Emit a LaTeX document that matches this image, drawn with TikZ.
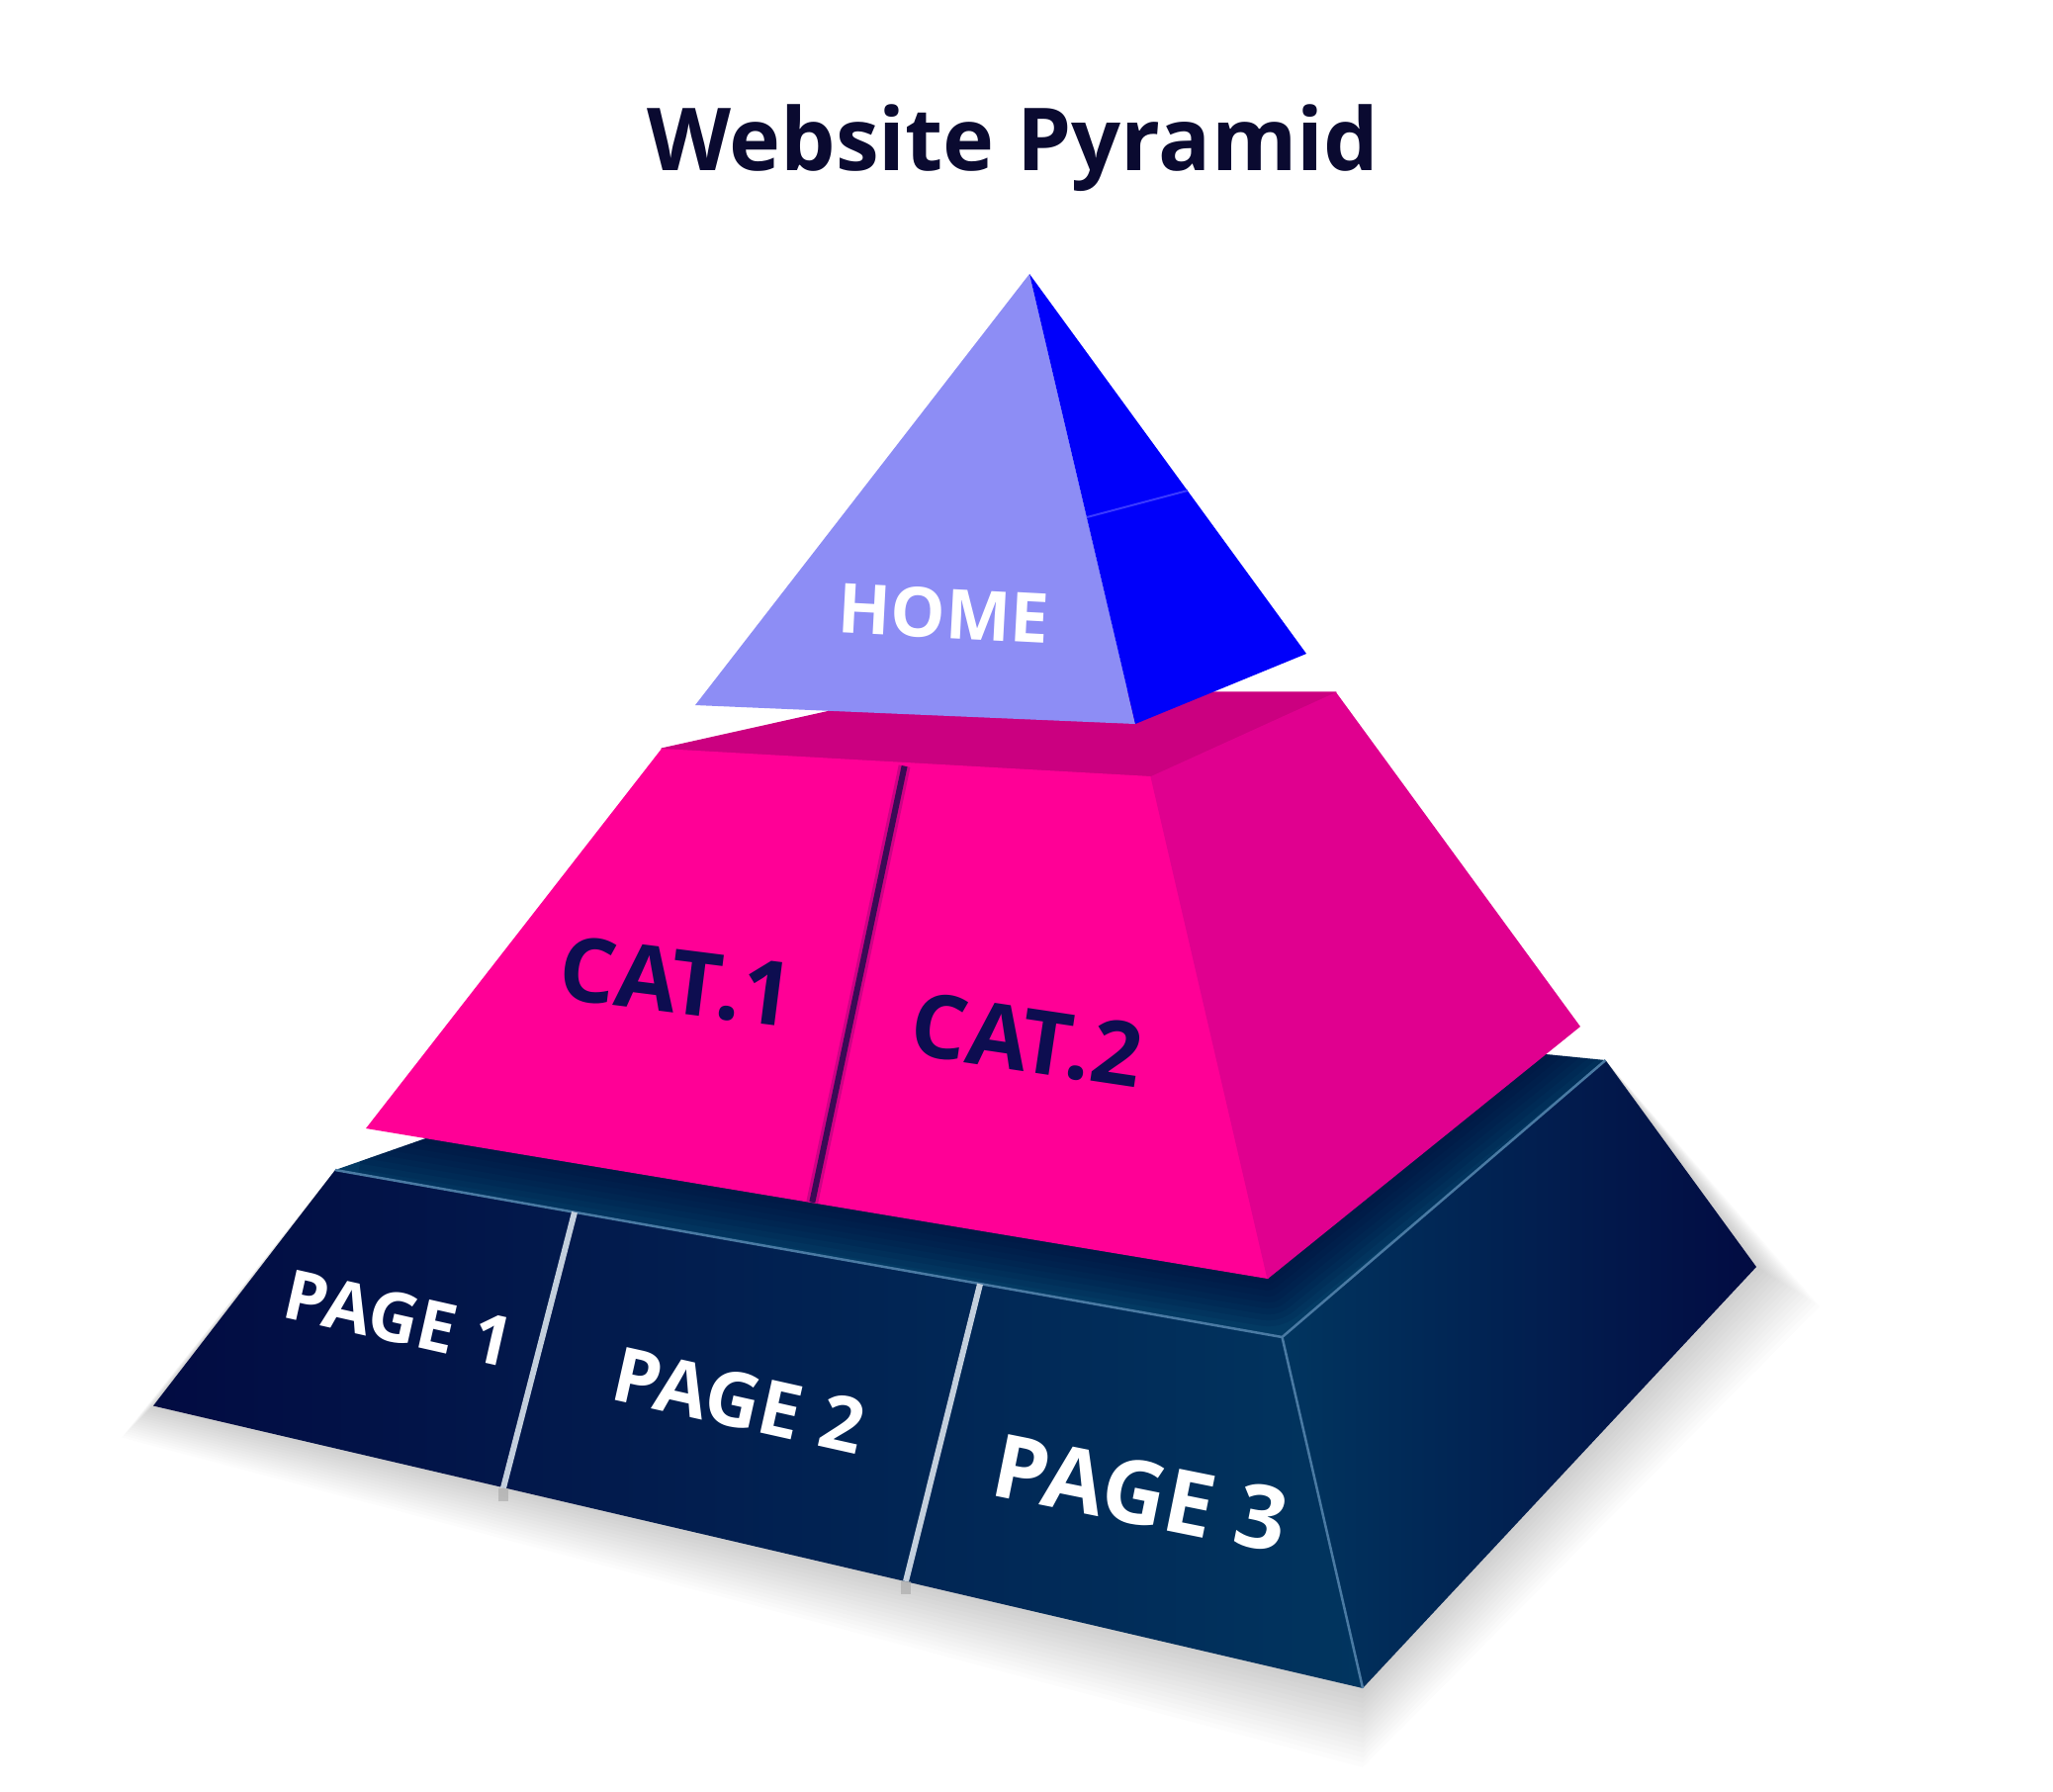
\documentclass[tikz,border=0pt]{standalone}
\usepackage{fontspec}
\setmainfont{Open Sans}
\usetikzlibrary{calc}
\definecolor{titlecol}{HTML}{0A0A30}
\definecolor{lav}{HTML}{8D8DF5}
\definecolor{blueR}{HTML}{0000FA}
\definecolor{creasecol}{HTML}{3A3AFF}
\definecolor{pinkF}{HTML}{FF0096}
\definecolor{pinkT}{HTML}{CB0080}
\definecolor{pinkR}{HTML}{E0008F}
\definecolor{pinkDiv}{HTML}{3A0A55}
\definecolor{catcol}{HTML}{0D0D50}
\definecolor{navyDark}{HTML}{020B42}
\definecolor{navyMid}{HTML}{00305C}
\definecolor{navyLight}{HTML}{01355F}
\definecolor{navyTop}{HTML}{033A63}
\definecolor{navyShade}{HTML}{000C3A}
\definecolor{edgeblue}{HTML}{4A7AA3}
\definecolor{divgray}{HTML}{C3CFDD}
\begin{document}
\begin{tikzpicture}[x=0.01cm,y=-0.01cm,
  lbl/.style={inner sep=0pt, anchor=base},
  edgeline/.style={draw=edgeblue, line width=0.025cm},
  pagediv/.style={draw=divgray, line width=0.06cm},
  whitelbl/.style={lbl, text=white},
  catlbl/.style={lbl, text=catcol},
  seam/.style={line width=0.012cm, line join=round},
]
\useasboundingbox (0,0) rectangle (2076,1811);
\fill[white] (0,0) rectangle (2076,1811);

% ---- coordinates
\coordinate (A) at (1041,277);
\coordinate (HL) at (703,713);
\coordinate (HF) at (1148,732);
\coordinate (HR) at (1321,661);
\coordinate (C1) at (1099,523);
\coordinate (C2) at (1201,496);
\coordinate (ML) at (669,757);
\coordinate (MB) at (925,700);
\coordinate (MTR) at (1351,700);
\coordinate (MF) at (1164,785);
\coordinate (MBL) at (370,1141);
\coordinate (MBR) at (1282,1293);
\coordinate (MRB) at (1598,1038);
\coordinate (MD1) at (914.6,774.6);
\coordinate (MD2) at (821.3,1215.7);
\coordinate (BL) at (339,1183);
\coordinate (BB) at (870,998);
\coordinate (BTR) at (1623.5,1072);
\coordinate (BF) at (1296.5,1352);
\coordinate (BBL) at (155,1421.5);
\coordinate (BBF) at (1378,1707);
\coordinate (BBR) at (1776,1281);
\coordinate (D1a) at (581,1225.7);
\coordinate (D1b) at (509,1504.5);
\coordinate (D2a) at (991,1298.3);
\coordinate (D2b) at (916,1599);

% ---- soft shadow under the base
\foreach \i in {1,...,16}{
  \fill[black, opacity=0.011]
    ($(BBL)+(-2*\i,2*\i)$) -- ($(BBF)+(0,5*\i)$) -- ($(BBR)+(4*\i,2.5*\i)$)
    -- (BTR) -- (BL) -- cycle;
}

% ---- bottom tier
\shade[left color=navyDark, middle color=navyMid, right color=navyLight]
  (BL) -- (BF) -- (BBF) -- (BBL) -- cycle;
\shade[left color=navyLight, right color=navyDark]
  (BF) -- (BTR) -- (BBR) -- (BBF) -- cycle;
\fill[navyTop] (BL) -- (BB) -- (BTR) -- (BF) -- cycle;
\begin{scope}
  \clip (BL) -- (BB) -- (BTR) -- (BF) -- cycle;
  \foreach \w in {12,24,...,96}{
    \draw[navyShade, opacity=0.12, line width=\w*0.01cm, line join=round]
      (MBL) -- (MBR) -- (MRB);
  }
\end{scope}
\draw[edgeline] (BL) -- (BF) -- (BTR);
\draw[edgeline] (BF) -- (BBF);
\draw[pagediv] (D1a) -- (D1b);
\draw[pagediv] (D2a) -- (D2b);
\fill[gray!70, opacity=0.6] ($(D1b)+(-5,0)$) rectangle ($(D1b)+(5,13)$);
\fill[gray!70, opacity=0.6] ($(D2b)+(-5,0)$) rectangle ($(D2b)+(5,13)$);

% ---- middle tier
\filldraw[pinkT, seam] (ML) -- (MB) -- (MTR) -- (MF) -- cycle;
\fill[pinkF] (ML) -- (MF) -- (MBR) -- (MBL) -- cycle;
\fill[pinkR] (MF) -- (MTR) -- (MRB) -- (MBR) -- cycle;
\draw[pinkR, seam] (MF) -- (MBR);
\draw[pinkDiv, opacity=0.25, line width=0.12cm] (MD1) -- (MD2);
\draw[pinkDiv, line width=0.06cm] (MD1) -- (MD2);

% ---- top pyramid
\fill[lav] (A) -- (HF) -- (HL) -- cycle;
\fill[blueR] (A) -- (HR) -- (HF) -- cycle;
\draw[creasecol, line width=0.02cm] (C1) -- (C2);

% ---- labels
\node[lbl, text=titlecol, font=\bfseries\fontsize{25}{30}\selectfont] (title) at (1024,172) {Website Pyramid};
\node[whitelbl, rotate=-3, font=\bfseries\fontsize{19.8}{24}\selectfont] (home) at (953,645) {HOME};
\node[catlbl, rotate=-7.2, font=\bfseries\fontsize{25.6}{30}\selectfont] (cat1) at (680,1024) {CAT.1};
\node[catlbl, rotate=-8.5, font=\bfseries\fontsize{25.4}{30}\selectfont] (cat2) at (1034,1083) {CAT.2};
\node[whitelbl, rotate=-12.7, font=\bfseries\fontsize{19.8}{24}\selectfont] (p1) at (398,1357.5) {PAGE 1};
\node[whitelbl, rotate=-12.6, font=\bfseries\fontsize{21.8}{26}\selectfont] (p2) at (741,1442.5) {PAGE 2};
\node[whitelbl, rotate=-11.4, font=\bfseries\fontsize{25.4}{30}\selectfont] (p3) at (1147,1541) {PAGE 3};
\end{tikzpicture}
\end{document}
